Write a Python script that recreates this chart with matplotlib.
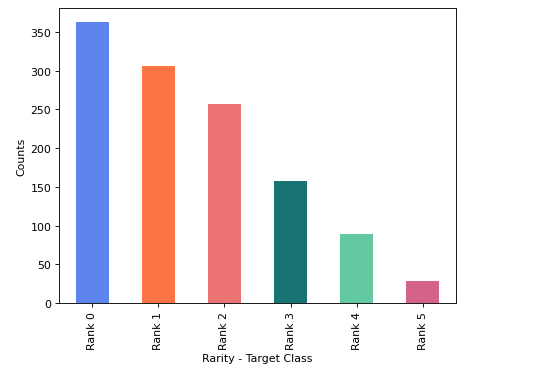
import matplotlib
matplotlib.use("Agg")
import matplotlib.pyplot as plt

# data
categories = ["Rank 0", "Rank 1", "Rank 2", "Rank 3", "Rank 4", "Rank 5"]
counts = [363, 306, 257, 157, 89, 28]
colors = ["#5d84ed", "#fc7645", "#eb7473", "#187474", "#62c9a0", "#d4628a"]

DPI = 79
fig = plt.figure(figsize=(544 / DPI, 376 / DPI), dpi=DPI)
ax = fig.add_axes([0.1085, 0.1915, 0.7295, 0.785])

x = range(len(categories))
ax.bar(x, counts, width=0.5, color=colors)
ax.set_xticks(list(x))
ax.set_xticklabels(categories, rotation=90)
ax.set_xlim(-0.5, len(categories) - 0.5)
ax.set_xlabel("Rarity - Target Class")
ax.set_ylabel("Counts")

fig.savefig("out.png", dpi=DPI)
